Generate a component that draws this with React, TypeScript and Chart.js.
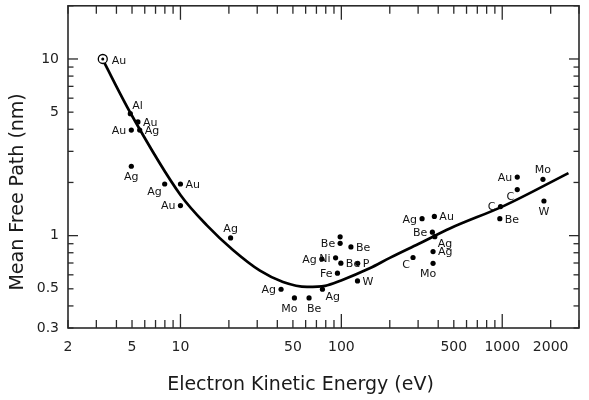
import React, { useEffect, useRef } from "react";
import { Chart, registerables } from "chart.js";

Chart.register(...registerables);

// ---- data ----
const energies = [3.29, 4.88, 5.44, 5.58, 4.95, 4.95, 7.98, 10, 10, 20.5, 42.2, 51.1, 63, 76.3, 94.6, 126, 75.6, 98.3, 98.3, 114.7, 92.1, 99.3, 126.4, 317.5, 378.6, 368, 381, 371.5, 279, 371.5, 1240, 1240, 976, 966, 1791, 1816];
const mfp = [10, 4.9, 4.4, 3.96, 3.96, 2.47, 1.96, 1.96, 1.48, 0.97, 0.497, 0.444, 0.444, 0.497, 0.613, 0.554, 0.737, 0.985, 0.905, 0.863, 0.749, 0.698, 0.697, 1.247, 1.285, 1.046, 0.987, 0.812, 0.752, 0.697, 2.145, 1.822, 1.46, 1.247, 2.083, 1.571];
const elements = ["Au", "Al", "Au", "Ag", "Au", "Ag", "Ag", "Au", "Au", "Ag", "Ag", "Mo", "Be", "Ag", "Fe", "W", "Ag", "", "Be", "Be", "Ni", "Be", "P", "Ag", "Au", "Be", "Ag", "Ag", "C", "Mo", "Au", "C", "C", "Be", "Mo", "W"];
const labelSide = ["rr", "tr", "r", "r", "l", "b", "bl", "r", "l", "t", "l", "bw", "be", "br", "l", "r", "l", "", "l", "r", "l", "r", "r", "l", "r", "l", "br", "r", "bl", "bw", "l", "bl", "l", "r", "t", "b"];
const circledIndex = 0;

const curveEnergy = [3.27, 4.9, 10, 14.6, 21.2, 31.2, 43.4, 61.2, 79.3, 99.7, 150, 200, 301, 476, 1033, 2580];
const curveMfp = [10, 4.93, 1.7, 1.144, 0.83, 0.634, 0.547, 0.513, 0.52, 0.558, 0.653, 0.748, 0.897, 1.101, 1.479, 2.259];

const xTickLabels = [2, 5, 10, 50, 100, 500, 1000, 2000];
const yTickLabels = [0.3, 0.5, 1, 5, 10];
const xRange = [2, 3000];
const yRange = [0.3, 20];

const xTitle = "Electron Kinetic Energy (eV)";
const yTitle = "Mean Free Path (nm)";

const FONT = "'DejaVu Sans', Verdana, sans-serif";

const sideStyle: Record<string, [CanvasTextAlign, number, number]> = {
  r: ["left", 5, 1],
  l: ["right", -5, 1],
  t: ["center", 0, -9],
  b: ["center", 0, 11],
  tr: ["left", 2, -8],
  br: ["left", 3, 8],
  bl: ["right", -3, 8],
  bw: ["center", -5, 11],
  be: ["center", 5, 11],
  rr: ["left", 9, 2],
};

function minorTicks(min: number, max: number) {
  const out: number[] = [];
  for (let d = Math.pow(10, Math.floor(Math.log10(min))); d <= max; d *= 10) {
    for (let m = 1; m <= 9; m++) {
      const v = +(m * d).toPrecision(6);
      if (v >= min - 1e-9 && v <= max + 1e-9) out.push(v);
    }
  }
  return out;
}
const isDecade = (v: number) => Math.abs(Math.log10(v) - Math.round(Math.log10(v))) < 1e-9;

const decor = {
  id: "decor",
  afterDraw(chart: any) {
    const { ctx, chartArea: a, scales } = chart;
    const xs = scales.x;
    const ys = scales.y;
    ctx.save();
    ctx.strokeStyle = "#2a2a2a";
    ctx.lineWidth = 1.3;
    const seg = (x1: number, y1: number, x2: number, y2: number) => {
      ctx.beginPath();
      ctx.moveTo(x1, y1);
      ctx.lineTo(x2, y2);
      ctx.stroke();
    };
    minorTicks(xRange[0], xRange[1]).forEach((v) => {
      const p = xs.getPixelForValue(v);
      const len = isDecade(v) ? 14 : 8;
      seg(p, a.bottom, p, a.bottom - len);
      seg(p, a.top, p, a.top + len);
    });
    minorTicks(yRange[0], yRange[1]).forEach((v) => {
      const p = ys.getPixelForValue(v);
      const len = isDecade(v) ? 10 : 5.5;
      seg(a.left, p, a.left + len, p);
      seg(a.right, p, a.right - len, p);
    });
    ctx.lineWidth = 1.6;
    ctx.strokeRect(a.left, a.top, a.right - a.left, a.bottom - a.top);

    // point labels
    const meta = chart.getDatasetMeta(2);
    ctx.fillStyle = "#111";
    ctx.font = `11px ${FONT}`;
    ctx.textBaseline = "middle";
    meta.data.forEach((el: any, i: number) => {
      const txt = elements[i];
      const st = sideStyle[labelSide[i]];
      if (!txt || !st) return;
      ctx.textAlign = st[0];
      ctx.fillText(txt, el.x + st[1], el.y + st[2]);
    });

    // axis titles
    ctx.fillStyle = "#1a1a1a";
    ctx.font = `19px ${FONT}`;
    ctx.textAlign = "center";
    ctx.textBaseline = "middle";
    ctx.fillText(xTitle, (a.left + a.right) / 2 - 23, a.bottom + 57);
    ctx.save();
    ctx.translate(a.left - 50, (a.top + a.bottom) / 2 + 25);
    ctx.rotate(-Math.PI / 2);
    ctx.fillText(yTitle, 0, 0);
    ctx.restore();
    ctx.restore();
  },
};

export default function App() {
  const ref = useRef<HTMLCanvasElement | null>(null);
  useEffect(() => {
    if (!ref.current) return;
    const points = energies.map((x, i) => ({ x, y: mfp[i] }));
    const curve = curveEnergy.map((x, i) => ({ x, y: curveMfp[i] }));
    const chart = new Chart(ref.current, {
      type: "scatter",
      data: {
        datasets: [
          {
            label: "Universal curve",
            data: curve,
            showLine: true,
            borderColor: "#000",
            borderWidth: 2.7,
            pointRadius: 0,
            cubicInterpolationMode: "monotone",
            order: 3,
          } as any,
          {
            label: "Reference",
            data: [points[circledIndex]],
            pointRadius: 4.5,
            pointBackgroundColor: "#fff",
            pointBorderColor: "#000",
            pointBorderWidth: 1.3,
            order: 2,
          },
          {
            label: "Measurements",
            data: points,
            pointRadius: (c: any) => (c.dataIndex === circledIndex ? 1.5 : 2.6),
            pointBackgroundColor: "#000",
            pointBorderColor: "#000",
            pointBorderWidth: 0,
            order: 1,
          } as any,
        ],
      },
      options: {
        animation: false,
        responsive: true,
        maintainAspectRatio: false,
        layout: { padding: { top: 1, right: 10, left: 0, bottom: 0 } },
        plugins: { legend: { display: false }, tooltip: { enabled: false } },
        scales: {
          x: {
            type: "logarithmic",
            min: xRange[0],
            max: xRange[1],
            grid: { display: false, drawTicks: false },
            border: { display: false },
            afterBuildTicks: (s: any) => {
              s.ticks = xTickLabels.map((v) => ({ value: v }));
            },
            afterFit: (s: any) => {
              s.height = 72;
              s.paddingLeft = 0;
              s.paddingRight = 0;
            },
            ticks: {
              autoSkip: false,
              maxRotation: 0,
              padding: 11,
              color: "#222",
              font: { family: FONT, size: 14 },
              callback: (v: any) => String(v),
            },
          },
          y: {
            type: "logarithmic",
            min: yRange[0],
            max: yRange[1],
            grid: { display: false, drawTicks: false },
            border: { display: false },
            afterBuildTicks: (s: any) => {
              s.ticks = yTickLabels.map((v) => ({ value: v }));
            },
            afterFit: (s: any) => {
              s.width = 68;
              s.paddingTop = 0;
              s.paddingBottom = 0;
            },
            ticks: {
              autoSkip: false,
              padding: 9,
              color: "#222",
              font: { family: FONT, size: 14, lineHeight: 0.1 },
              callback: (v: any) => String(v),
            },
          },
        },
      } as any,
      plugins: [decor],
    });
    return () => chart.destroy();
  }, []);
  return (
    <div style={{ position: "fixed", left: 0, top: 0, width: 589, height: 400, background: "#fff" }}>
      <canvas ref={ref} />
    </div>
  );
}
